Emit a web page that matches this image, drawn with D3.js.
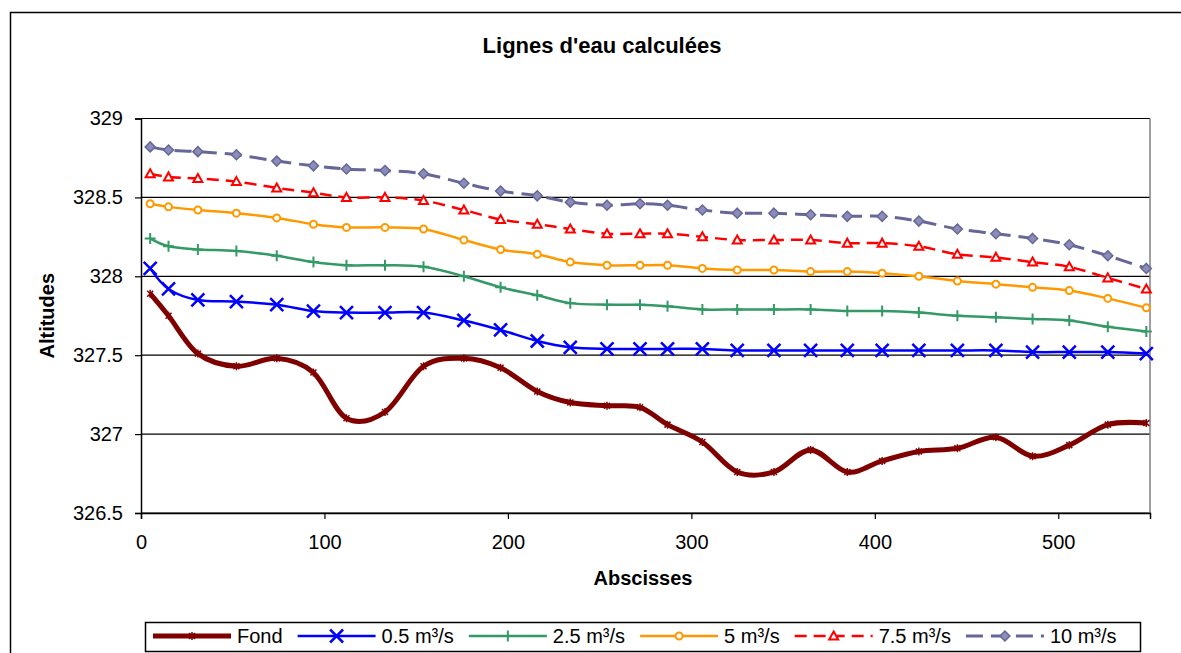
<!DOCTYPE html>
<html>
<head>
<meta charset="utf-8">
<script src="https://cdn.jsdelivr.net/npm/d3@7"></script>
<style>
  body { margin: 0; background: #fff; }
  text { font-family: "Liberation Sans", Arial, sans-serif; }
</style>
</head>
<body>
<div id="chart"></div>
<script>
var width = 1181, height = 653

// abscisses des profils (m)
var abscisses = [5, 15, 31, 52, 74, 94, 112, 133, 154, 176, 196, 216, 234, 254, 272, 287, 306, 325, 345, 365, 385, 404, 424, 445, 466, 486, 506, 527, 548]

var fond = [327.89, 327.75, 327.51, 327.43, 327.48, 327.39, 327.10, 327.14, 327.43, 327.48, 327.42, 327.27, 327.20, 327.18, 327.17, 327.06, 326.95, 326.76, 326.76, 326.90, 326.76, 326.83, 326.89, 326.91, 326.98, 326.86, 326.93, 327.06, 327.07]
var q05 = [328.05, 327.92, 327.85, 327.84, 327.82, 327.78, 327.77, 327.77, 327.77, 327.72, 327.66, 327.59, 327.55, 327.54, 327.54, 327.54, 327.54, 327.53, 327.53, 327.53, 327.53, 327.53, 327.53, 327.53, 327.53, 327.52, 327.52, 327.52, 327.51]
var q25 = [328.24, 328.19, 328.17, 328.16, 328.13, 328.09, 328.07, 328.07, 328.06, 328.00, 327.93, 327.88, 327.83, 327.82, 327.82, 327.81, 327.79, 327.79, 327.79, 327.79, 327.78, 327.78, 327.77, 327.75, 327.74, 327.73, 327.72, 327.68, 327.65]
var q5 = [328.46, 328.44, 328.42, 328.40, 328.37, 328.33, 328.31, 328.31, 328.30, 328.23, 328.17, 328.14, 328.09, 328.07, 328.07, 328.07, 328.05, 328.04, 328.04, 328.03, 328.03, 328.02, 328.00, 327.97, 327.95, 327.93, 327.91, 327.86, 327.80]
var q75 = [328.65, 328.63, 328.62, 328.60, 328.56, 328.53, 328.50, 328.50, 328.48, 328.42, 328.36, 328.33, 328.30, 328.27, 328.27, 328.27, 328.25, 328.23, 328.23, 328.23, 328.21, 328.21, 328.19, 328.14, 328.12, 328.09, 328.06, 327.99, 327.92]
var q10 = [328.82, 328.80, 328.79, 328.77, 328.73, 328.70, 328.68, 328.67, 328.65, 328.59, 328.54, 328.51, 328.47, 328.45, 328.46, 328.45, 328.42, 328.40, 328.40, 328.39, 328.38, 328.38, 328.35, 328.30, 328.27, 328.24, 328.20, 328.13, 328.05]

var xTicks = [0, 100, 200, 300, 400, 500]
var yTicks = [326.5, 327, 327.5, 328, 328.5, 329]

var series = [
    {name: 'Fond', values: fond, color: '#800000', width: 5, dash: null, marker: 'star'},
    {name: '0.5 m³/s', values: q05, color: '#0000ff', width: 2.5, dash: null, marker: 'x'},
    {name: '2.5 m³/s', values: q25, color: '#339966', width: 2.5, dash: null, marker: 'plus'},
    {name: '5 m³/s', values: q5, color: '#ff9900', width: 2.5, dash: null, marker: 'circle'},
    {name: '7.5 m³/s', values: q75, color: '#ff0000', width: 2.5, dash: '12,7', marker: 'triangle'},
    {name: '10 m³/s', values: q10, color: '#666699', width: 3, dash: '17,8', marker: 'diamond'}
]

var plot = {left: 141, right: 1150, top: 118.5, bottom: 513}

var svg = d3.select('#chart')
    .append('svg')
    .attr('width', width)
    .attr('height', height)

// cadre du graphique
svg.append('rect')
    .attr('x', 10.5).attr('y', 12.5)
    .attr('width', 1300).attr('height', 800)
    .attr('fill', '#fff')
    .attr('stroke', '#000')
    .attr('stroke-width', 1.5)

svg.append('text')
    .attr('x', 602).attr('y', 53)
    .attr('text-anchor', 'middle')
    .style('font-size', '22px')
    .style('font-weight', 'bold')
    .text("Lignes d'eau calculées")

var x = d3.scaleLinear().domain([0, 550]).range([plot.left, plot.right])
var y = d3.scaleLinear().domain([326.5, 329]).range([plot.bottom, plot.top])

// grille
svg.append('g')
    .selectAll('line')
    .data(yTicks)
    .enter()
    .append('line')
    .attr('x1', plot.left).attr('x2', plot.right)
    .attr('y1', function(d) { return y(d) })
    .attr('y2', function(d) { return y(d) })
    .attr('stroke', '#000')
    .attr('stroke-width', 1.2)

// bord droit
svg.append('line')
    .attr('x1', plot.right).attr('x2', plot.right)
    .attr('y1', plot.top).attr('y2', plot.bottom)
    .attr('stroke', '#808080')
    .attr('stroke-width', 1.5)

var yAxis = svg.append('g')
    .attr('transform', 'translate(' + plot.left + ',0)')
    .call(d3.axisLeft(y).tickValues(yTicks).tickSize(6).tickPadding(12).tickFormat(d3.format('')))
var xAxis = svg.append('g')
    .attr('transform', 'translate(0,' + plot.bottom + ')')
    .call(d3.axisBottom(x).tickValues(xTicks).tickSize(6).tickPadding(16).tickFormat(d3.format('')))

svg.selectAll('.domain').attr('stroke', '#000').attr('stroke-width', 1.5)
svg.selectAll('.tick line').attr('stroke', '#000').attr('stroke-width', 1.2)
svg.selectAll('.tick text').style('font-size', '20px').attr('fill', '#000')
    .style('font-family', '"Liberation Sans", Arial, sans-serif')

svg.append('text')
    .attr('x', 643).attr('y', 585)
    .attr('text-anchor', 'middle')
    .style('font-size', '20px')
    .style('font-weight', 'bold')
    .text('Abscisses')

svg.append('text')
    .attr('transform', 'translate(54,' + ((plot.top + plot.bottom) / 2) + ') rotate(-90)')
    .attr('text-anchor', 'middle')
    .style('font-size', '20px')
    .style('font-weight', 'bold')
    .text('Altitudes')

function drawMarker(g, type, color) {
    if (type == 'star') {
        g.append('path').attr('d', 'M-3,-3L3,3M-3,3L3,-3M0,-4L0,4')
            .attr('stroke', color).attr('stroke-width', 1.5).attr('fill', 'none')
    } else if (type == 'x') {
        g.append('path').attr('d', 'M-6.5,-6.5L6.5,6.5M-6.5,6.5L6.5,-6.5')
            .attr('stroke', color).attr('stroke-width', 2.5).attr('fill', 'none')
    } else if (type == 'plus') {
        g.append('path').attr('d', 'M-5.5,0L5.5,0M0,-5.5L0,5.5')
            .attr('stroke', color).attr('stroke-width', 2).attr('fill', 'none')
    } else if (type == 'circle') {
        g.append('circle').attr('r', 3.5)
            .attr('stroke', color).attr('stroke-width', 2).attr('fill', '#fff')
    } else if (type == 'triangle') {
        g.append('path').attr('d', 'M0,-4.5L4.5,3.5L-4.5,3.5Z')
            .attr('stroke', color).attr('stroke-width', 2).attr('fill', '#fff')
    } else if (type == 'diamond') {
        g.append('path').attr('d', 'M0,-5L5,0L0,5L-5,0Z')
            .attr('stroke', color).attr('stroke-width', 1.5).attr('fill', '#8c8cb8')
    }
}

var line = d3.line()
    .x(function(d) { return x(d[0]) })
    .y(function(d) { return y(d[1]) })
    .curve(d3.curveCatmullRom.alpha(0))

// on dessine du haut vers le bas, le fond en dernier
series.slice().reverse().forEach(function(s) {
    var pts = abscisses.map(function(a, i) { return [a, s.values[i]] })
    svg.append('path')
        .datum(pts)
        .attr('d', line)
        .attr('fill', 'none')
        .attr('stroke', s.color)
        .attr('stroke-width', s.width)
        .attr('stroke-dasharray', s.dash)
        .attr('stroke-linejoin', 'round')

    svg.append('g')
        .selectAll('g')
        .data(pts)
        .enter()
        .append('g')
        .attr('transform', function(d) { return 'translate(' + x(d[0]) + ',' + y(d[1]) + ')' })
        .each(function() { drawMarker(d3.select(this), s.marker, s.color) })
})

// légende
var legend = svg.append('g')
var lgY = 636
legend.append('rect')
    .attr('x', 145.5).attr('y', 622.5)
    .attr('width', 995).attr('height', 29)
    .attr('fill', '#fff')
    .attr('stroke', '#000')
    .attr('stroke-width', 1.5)

var cx = 153
series.forEach(function(s) {
    legend.append('line')
        .attr('x1', cx).attr('x2', cx + 78)
        .attr('y1', lgY).attr('y2', lgY)
        .attr('stroke', s.color)
        .attr('stroke-width', s.width)
        .attr('stroke-dasharray', s.dash)
    var m = legend.append('g').attr('transform', 'translate(' + (cx + 39) + ',' + lgY + ')')
    drawMarker(m, s.marker, s.color)
    var t = legend.append('text')
        .attr('x', cx + 84).attr('y', lgY + 7)
        .style('font-size', '20px')
        .text(s.name)
    cx = cx + 84 + t.node().getComputedTextLength() + 15
})
</script>
</body>
</html>
